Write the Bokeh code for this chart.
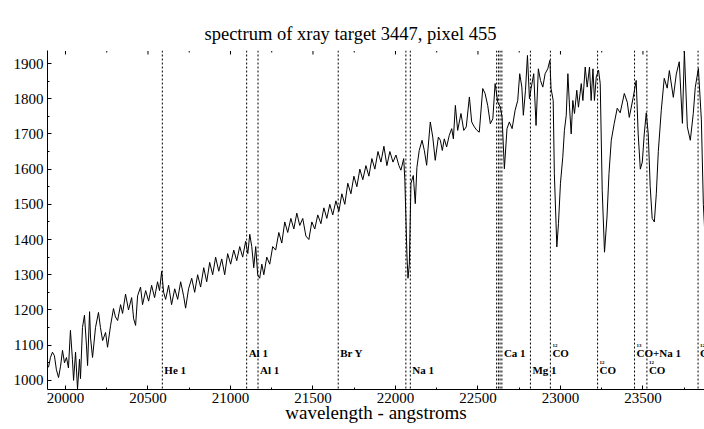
from bokeh.plotting import figure
from bokeh.models import Span, FixedTicker, Range1d, ColumnDataSource, LinearAxis
from bokeh.core.properties import value
from bokeh.embed import file_html
from bokeh.resources import INLINE

# ---- data ----
WAVELENGTH = [
    19897, 19909, 19921, 19933, 19945, 19958, 19970, 19982, 19994, 20006,
    20018, 20030, 20042, 20049, 20061, 20073, 20085, 20091, 20103, 20115,
    20127, 20134, 20146, 20152, 20164, 20182, 20200, 20212, 20225, 20243,
    20255, 20273, 20291, 20303, 20316, 20334, 20346, 20364, 20382, 20401,
    20413, 20425, 20437, 20455, 20467, 20486, 20504, 20522, 20540, 20558,
    20570, 20583, 20595, 20607, 20625, 20643, 20662, 20680, 20698, 20716,
    20728, 20746, 20765, 20783, 20801, 20819, 20838, 20856, 20874, 20892,
    20910, 20929, 20947, 20965, 20983, 21001, 21020, 21038, 21056, 21074,
    21092, 21105, 21117, 21129, 21141, 21153, 21165, 21177, 21190, 21202,
    21220, 21238, 21256, 21274, 21293, 21311, 21329, 21347, 21366, 21384,
    21402, 21420, 21438, 21457, 21475, 21493, 21511, 21529, 21548, 21566,
    21584, 21602, 21620, 21639, 21657, 21675, 21693, 21711, 21730, 21748,
    21766, 21784, 21802, 21821, 21839, 21857, 21875, 21894, 21912, 21930,
    21948, 21966, 21985, 22003, 22021, 22033, 22050, 22057, 22070, 22076,
    22084, 22094, 22108, 22120, 22130, 22144, 22161, 22175, 22189, 22211,
    22226, 22241, 22260, 22272, 22284, 22296, 22310, 22326, 22341, 22351,
    22363, 22377, 22397, 22414, 22429, 22448, 22462, 22478, 22494, 22508,
    22529, 22543, 22559, 22575, 22590, 22604, 22620, 22636, 22646, 22660,
    22676, 22690, 22707, 22725, 22741, 22753, 22766, 22775, 22788, 22800,
    22812, 22822, 22838, 22852, 22866, 22879, 22893, 22907, 22923, 22936,
    22943, 22956, 22963, 22978, 22988, 23000, 23014, 23024, 23035, 23045,
    23055, 23065, 23075, 23085, 23099, 23109, 23126, 23136, 23150, 23162,
    23176, 23186, 23197, 23206, 23217, 23231, 23241, 23253, 23267, 23282,
    23294, 23308, 23326, 23344, 23362, 23387, 23405, 23417, 23441, 23459,
    23471, 23484, 23496, 23508, 23520, 23532, 23544, 23556, 23569, 23581,
    23593, 23611, 23629, 23647, 23660, 23684, 23702, 23720, 23739, 23751,
    23769, 23787, 23805, 23817, 23836, 23854, 23866, 23878,
]
FLUX = [
    1037, 1065, 1080, 1070, 1030, 1008, 1040, 1085, 1050, 1065,
    1035, 1142, 1060, 1000, 1080, 975, 1060, 1005, 1150, 1185,
    1100, 1042, 1195, 1120, 1065, 1150, 1193, 1150, 1113, 1136,
    1094, 1155, 1204, 1180, 1170, 1215, 1190, 1245, 1200, 1235,
    1175, 1156, 1240, 1265, 1215, 1255, 1225, 1270, 1235, 1280,
    1255, 1310, 1250, 1230, 1270, 1215, 1260, 1230, 1280, 1240,
    1205, 1260, 1290, 1250, 1300, 1265, 1320, 1280, 1335, 1300,
    1350, 1310, 1345, 1300, 1360, 1330, 1370, 1340, 1380, 1350,
    1395, 1360, 1415, 1380, 1320, 1380, 1300, 1290, 1330, 1300,
    1350, 1330, 1380, 1370, 1420, 1390, 1450, 1420, 1460, 1430,
    1475, 1440, 1460, 1410, 1400, 1450, 1430, 1470, 1445, 1490,
    1460, 1500, 1470, 1510, 1480, 1530, 1500, 1560, 1530, 1580,
    1550, 1600, 1570, 1610, 1580, 1630, 1600, 1650, 1620, 1665,
    1610, 1650, 1620, 1640, 1610, 1597, 1630, 1568, 1350, 1290,
    1330, 1560, 1582, 1502, 1605, 1653, 1682, 1653, 1611, 1734,
    1691, 1625, 1691, 1682, 1653, 1686, 1663, 1696, 1715, 1686,
    1781, 1710, 1758, 1710, 1720, 1805, 1734, 1720, 1710, 1705,
    1829, 1815, 1781, 1729, 1743, 1843, 1790, 1776, 1748, 1601,
    1715, 1734, 1715, 1767, 1795, 1871, 1833, 1753, 1824, 1923,
    1800, 1829, 1871, 1724, 1885, 1852, 1833, 1871, 1885, 1909,
    1829, 1795, 1587, 1379, 1446, 1560, 1634, 1710, 1753, 1871,
    1776, 1700, 1795, 1758, 1824, 1776, 1843, 1795, 1890, 1833,
    1890, 1795, 1885, 1795, 1862, 1881, 1843, 1540, 1364, 1464,
    1587, 1682, 1730, 1773, 1760, 1815, 1790, 1747, 1804, 1852,
    1700, 1600, 1620, 1700, 1760, 1700, 1550, 1460, 1450, 1530,
    1650, 1767, 1858, 1830, 1880, 1804, 1870, 1905, 1730, 1935,
    1720, 1682, 1758, 1832, 1886, 1740, 1500, 1390,
]

# marked spectral lines (dotted verticals)
LINE_WL = [20587, 21098, 21167, 21653, 22063, 22090,
           22613, 22624, 22634, 22645, 22818, 22939,
           23225, 23449, 23524, 23834]

# line labels
LABEL_TEXT = ["He 1", "Al 1", "Al 1", "Br Y", "Na 1", "Ca 1", "Mg 1",
              "CO", "CO", "CO+Na 1", "CO", "CO"]
LABEL_WL = [20587, 21098, 21167, 21653, 22090, 22645, 22818,
            22939, 23225, 23449, 23524, 23834]
LABEL_ROW = ["low", "high", "low", "high", "low", "high", "low",
             "high", "low", "high", "low", "high"]
LABEL_ISOTOPE = ["", "", "", "", "", "", "", "12", "12", "13", "12", "12"]

X_TICKS = [20000, 20500, 21000, 21500, 22000, 22500, 23000, 23500]
X_MINOR = [19750, 20250, 20750, 21250, 21750, 22250, 22750, 23250, 23750]
Y_TICKS = [1000, 1100, 1200, 1300, 1400, 1500, 1600, 1700, 1800, 1900]
Y_MINOR = [1050, 1150, 1250, 1350, 1450, 1550, 1650, 1750, 1850]

TITLE = "spectrum of xray target 3447, pixel 455"
X_LABEL = "wavelength - angstroms"

# ---- plot ----
SERIF = "Liberation Serif"
ROW_Y = {"high": 1078, "low": 1030}
X0, X1 = 19891, 23873
Y0, Y1 = 974, 1937

p = figure(width=704, height=429, output_backend="svg", toolbar_location=None,
           x_range=Range1d(X0, X1), y_range=Range1d(Y0, Y1),
           min_border_left=47, min_border_right=0, min_border_top=50,
           min_border_bottom=40)
p.outline_line_color = None
p.grid.visible = False
p.background_fill_color = "white"
p.border_fill_color = "white"

bottom_axis = p.below[0]
left_axis = p.left[0]

# invisible spacer between frame and title (no ticks, no labels)
spacer = LinearAxis(ticker=FixedTicker(ticks=[], minor_ticks=[]),
                    axis_line_color="white", major_tick_line_color="white",
                    minor_tick_line_color="white", major_tick_in=0,
                    major_tick_out=12, minor_tick_in=0, minor_tick_out=0,
                    major_label_standoff=0)
p.add_layout(spacer, "above")

p.title.text = TITLE
p.title.text_font = SERIF
p.title.text_font_size = "18.5px"
p.title.text_font_style = "normal"
p.title.text_color = "black"
p.title.align = "left"
p.title.offset = 157
p.title.vertical_align = "top"
p.title.standoff = 10

def style_axis(ax, ticks, minor):
    ax.ticker = FixedTicker(ticks=ticks, minor_ticks=minor)
    ax.major_tick_in = 4
    ax.major_tick_out = 0
    ax.minor_tick_in = 2
    ax.minor_tick_out = 0
    ax.axis_line_color = "black"
    ax.major_tick_line_color = "black"
    ax.minor_tick_line_color = "black"
    ax.major_label_text_font = SERIF
    ax.major_label_text_color = "black"
    ax.major_label_text_font_size = "15px"

style_axis(bottom_axis, X_TICKS, X_MINOR)
bottom_axis.major_label_standoff = 3
bottom_axis.axis_label = X_LABEL
bottom_axis.axis_label_text_font = SERIF
bottom_axis.axis_label_text_font_size = "19px"
bottom_axis.axis_label_text_font_style = "normal"
bottom_axis.axis_label_text_color = "black"
bottom_axis.axis_label_standoff = -4
style_axis(left_axis, Y_TICKS, Y_MINOR)
left_axis.major_label_standoff = 4

# frame top edge with inward tick marks (mirrors the bottom axis)
frame_h_px = 429 - 50 - 40
px_per_unit = frame_h_px / (Y1 - Y0)
p.segment(x0=[X0], y0=[Y1], x1=[X1], y1=[Y1], line_color="black", line_width=1)
p.segment(x0=X_TICKS, y0=[Y1] * len(X_TICKS), x1=X_TICKS,
          y1=[Y1 - 4 / px_per_unit] * len(X_TICKS), line_color="black", line_width=1)
p.segment(x0=X_MINOR, y0=[Y1] * len(X_MINOR), x1=X_MINOR,
          y1=[Y1 - 2 / px_per_unit] * len(X_MINOR), line_color="black", line_width=1)

for wl in LINE_WL:
    p.add_layout(Span(location=wl, dimension="height", line_color="black",
                      line_width=1, line_dash="2 2"))

p.line(WAVELENGTH, FLUX, line_color="black", line_width=1)

lab_src = ColumnDataSource(dict(
    x=LABEL_WL,
    y=[ROW_Y[r] for r in LABEL_ROW],
    text=LABEL_TEXT,
))
p.text(x="x", y="y", text="text", source=lab_src, x_offset=2,
       text_font=value(SERIF), text_font_size="11px", text_font_style="bold",
       text_align="left", text_baseline="middle", text_color="black")

iso_idx = [i for i, s in enumerate(LABEL_ISOTOPE) if s]
iso_src = ColumnDataSource(dict(
    x=[LABEL_WL[i] for i in iso_idx],
    y=[ROW_Y[LABEL_ROW[i]] + 21 for i in iso_idx],
    text=[LABEL_ISOTOPE[i] for i in iso_idx],
))
p.text(x="x", y="y", text="text", source=iso_src, x_offset=2,
       text_font=value(SERIF), text_font_size="5px", text_font_style="bold",
       text_align="left", text_baseline="middle", text_color="black")

open("out.html", "w").write(file_html(p, INLINE))
